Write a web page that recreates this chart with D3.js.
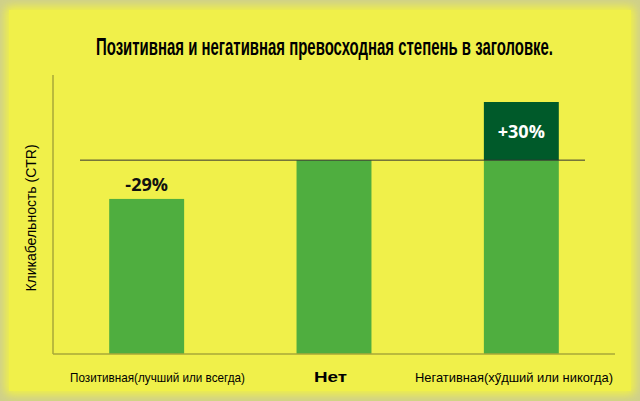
<!DOCTYPE html>
<html>
<head>
<meta charset="utf-8">
<script src="https://cdn.jsdelivr.net/npm/d3@7"></script>
<style>
  body { margin: 0; background: #d9d9a0; }
  svg { display: block; }
</style>
</head>
<body>
<script>
// chart data
let categories = ["Позитивная(лучший или всегда)", "Нет", "Негативная(хӳдший или никогда)"];
let baseValues = [80, 100, 100];
let extraValues = [0, 0, 30];
let barLabels = ["-29%", "", "+30%"];
let title = "Позитивная и негативная превосходная степень в заголовке.";
let yLabel = "Кликабельность (CTR)";

let w = 640, h = 401;
let margins = {top: 75, bottom: 47, left: 53, right: 25};

let svg = d3.select("body").append("svg")
            .attr("width", w)
            .attr("height", h);

// soft frame
let defs = svg.append("defs");
defs.append("filter").attr("id", "blur")
    .append("feGaussianBlur").attr("stdDeviation", 4);
svg.append("rect").attr("width", w).attr("height", h).attr("fill", "#cfd08a");
svg.append("rect")
   .attr("x", 5).attr("y", 6).attr("width", w - 10).attr("height", h - 12)
   .attr("rx", 6)
   .attr("fill", "#f0f04a")
   .attr("filter", "url(#blur)");
svg.append("rect")
   .attr("x", 9).attr("y", 10).attr("width", w - 18).attr("height", h - 20)
   .attr("fill", "#f0f04a");

// scales
let x = d3.scaleBand()
          .domain(categories)
          .range([margins.left, 615])
          .paddingInner(0.6)
          .paddingOuter(0.3);
let y = d3.scaleLinear()
          .domain([0, 130])
          .range([h - margins.bottom, 102]);

// title
svg.append("text")
   .attr("x", 96).attr("y", 55)
   .attr("textLength", 457)
   .attr("lengthAdjust", "spacingAndGlyphs")
   .attr("font-family", "Liberation Sans, Arial, sans-serif")
   .attr("font-weight", "bold")
   .attr("font-size", 23)
   .text(title);

// bars
svg.selectAll(".bar").data(categories).enter().append("rect")
   .attr("x", d => x(d))
   .attr("width", x.bandwidth())
   .attr("y", (d, i) => y(baseValues[i]))
   .attr("height", (d, i) => y(0) - y(baseValues[i]))
   .attr("fill", "#4fae3f");

svg.selectAll(".extra").data(categories).enter().append("rect")
   .attr("x", d => x(d))
   .attr("width", x.bandwidth())
   .attr("y", (d, i) => y(baseValues[i] + extraValues[i]))
   .attr("height", (d, i) => y(baseValues[i]) - y(baseValues[i] + extraValues[i]))
   .attr("fill", "#005a2a");

// reference line at baseline value
svg.append("line")
   .attr("x1", 80).attr("x2", 585)
   .attr("y1", y(100)).attr("y2", y(100))
   .attr("stroke", "#333").attr("stroke-width", 1);

// bar labels
svg.selectAll(".lbl").data(categories).enter().append("text")
   .attr("x", d => x(d) + x.bandwidth() / 2)
   .attr("y", (d, i) => extraValues[i] > 0
         ? (y(baseValues[i] + extraValues[i]) + y(baseValues[i])) / 2 + 7
         : y(baseValues[i]) - 8)
   .attr("text-anchor", "middle")
   .attr("font-family", "Open Sans, sans-serif")
   .attr("font-weight", "bold")
   .attr("font-size", 18)
   .attr("fill", (d, i) => extraValues[i] > 0 ? "#fff" : "#111")
   .text((d, i) => barLabels[i]);

// axes lines
svg.append("line")
   .attr("x1", margins.left).attr("x2", margins.left)
   .attr("y1", margins.top).attr("y2", y(0))
   .attr("stroke", "#a8a838").attr("stroke-width", 1.5);
svg.append("line")
   .attr("x1", margins.left).attr("x2", 615)
   .attr("y1", y(0)).attr("y2", y(0))
   .attr("stroke", "#a8a838").attr("stroke-width", 1.5);

// category labels
let catX = [70, 314, 415], catLen = [175, 33, 198];
svg.selectAll(".cat").data(categories).enter().append("text")
   .attr("x", (d, i) => catX[i])
   .attr("y", 382)
   .attr("textLength", (d, i) => catLen[i])
   .attr("lengthAdjust", "spacingAndGlyphs")
   .attr("font-family", "Liberation Sans, sans-serif")
   .attr("font-weight", (d, i) => i === 1 ? "bold" : "normal")
   .attr("font-size", (d, i) => i === 1 ? 15 : 13)
   .text(d => d);

// y label
svg.append("text")
   .attr("transform", "translate(36," + 218 + ") rotate(-90)")
   .attr("text-anchor", "middle")
   .attr("font-family", "Liberation Sans, sans-serif")
   .attr("font-size", 14)
   .text(yLabel);
</script>
</body>
</html>
